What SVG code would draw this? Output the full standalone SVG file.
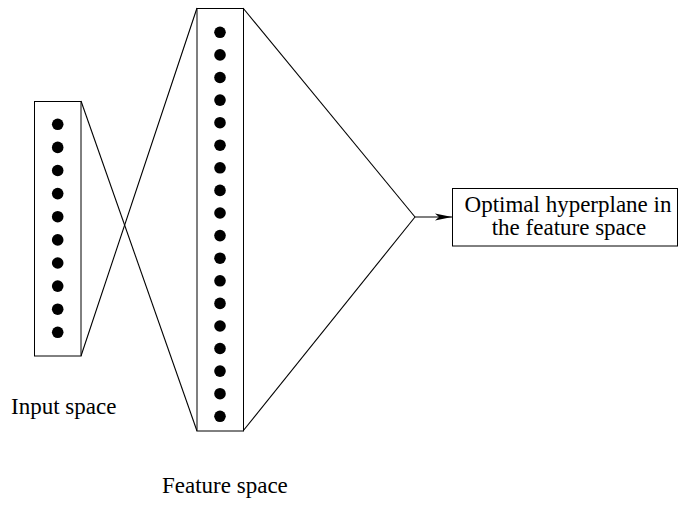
<svg xmlns="http://www.w3.org/2000/svg" width="679" height="508" viewBox="0 0 679 508">
<style>
.box{fill:#fff;stroke:#000;stroke-width:1}
.dot{fill:#000}
.ln{fill:none;stroke:#000;stroke-width:1.1}
text{font-family:"Liberation Serif","Times New Roman",serif;font-size:23px;fill:#000}
</style>
<defs>
<marker id="ah" markerWidth="17" markerHeight="8" refX="17" refY="4" orient="auto" markerUnits="userSpaceOnUse">
<path d="M0,0.6 L17,4 L0,7.4 L4,4 Z" fill="#000"/>
</marker>
</defs>
<g id="connectors">
<line class="ln" x1="81" y1="101" x2="197" y2="431"/>
<line class="ln" x1="81" y1="356" x2="197" y2="8"/>
<line class="ln" x1="243" y1="8" x2="415" y2="217"/>
<line class="ln" x1="243" y1="431" x2="415" y2="217"/>
<line class="ln" x1="415" y1="217" x2="452" y2="217" marker-end="url(#ah)"/>
</g>
<g id="input">
<rect class="box" x="34.5" y="101.5" width="46.5" height="254.5"/>
<g class="dot">
<circle cx="57.7" cy="124.3" r="5.8"/><circle cx="57.7" cy="147.4" r="5.8"/><circle cx="57.7" cy="170.5" r="5.8"/><circle cx="57.7" cy="193.6" r="5.8"/><circle cx="57.7" cy="216.7" r="5.8"/><circle cx="57.7" cy="239.9" r="5.8"/><circle cx="57.7" cy="263.0" r="5.8"/><circle cx="57.7" cy="286.1" r="5.8"/><circle cx="57.7" cy="309.2" r="5.8"/><circle cx="57.7" cy="332.3" r="5.8"/>
</g>
</g>
<g id="feature">
<rect class="box" x="197" y="8.5" width="46.5" height="422.5"/>
<g class="dot">
<circle cx="220" cy="32.3" r="5.8"/><circle cx="220" cy="54.9" r="5.8"/><circle cx="220" cy="77.5" r="5.8"/><circle cx="220" cy="100.1" r="5.8"/><circle cx="220" cy="122.7" r="5.8"/><circle cx="220" cy="145.2" r="5.8"/><circle cx="220" cy="167.8" r="5.8"/><circle cx="220" cy="190.4" r="5.8"/><circle cx="220" cy="213.0" r="5.8"/><circle cx="220" cy="235.6" r="5.8"/><circle cx="220" cy="258.2" r="5.8"/><circle cx="220" cy="280.8" r="5.8"/><circle cx="220" cy="303.4" r="5.8"/><circle cx="220" cy="326.0" r="5.8"/><circle cx="220" cy="348.5" r="5.8"/><circle cx="220" cy="371.1" r="5.8"/><circle cx="220" cy="393.7" r="5.8"/><circle cx="220" cy="416.3" r="5.8"/>
</g>
</g>
<g id="hyperplane">
<rect class="box" x="452.5" y="188.5" width="225" height="57.5"/>
<text x="568" y="212" text-anchor="middle">Optimal hyperplane in</text>
<text x="569" y="235" text-anchor="middle">the feature space</text>
</g>
<g id="label-input"><text x="11" y="414">Input space</text></g>
<g id="label-feature"><text x="162" y="493">Feature space</text></g>
</svg>
